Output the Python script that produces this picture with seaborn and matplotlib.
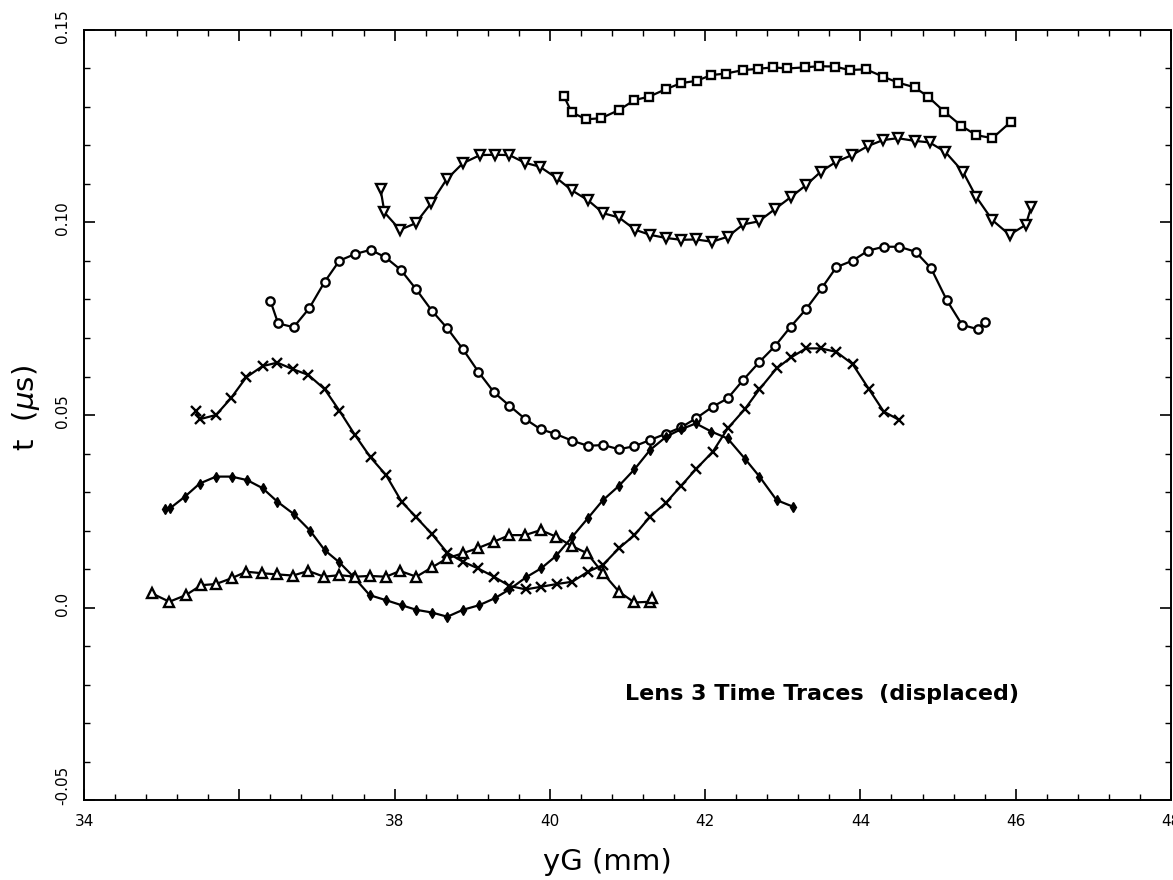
import numpy as np
import pandas as pd
import matplotlib
matplotlib.use("Agg")
import matplotlib.pyplot as plt
import matplotlib.transforms as mtransforms
import seaborn as sns
from matplotlib.ticker import MultipleLocator, FixedLocator

# ---------------- data ----------------
A_x = [40.18,40.28,40.47,40.66,40.89,41.09,41.28,41.49,41.69,41.89,42.08,42.27,42.49,42.68,42.87,43.06,43.28,43.47,43.67,43.86,44.07,44.29,44.49,44.70,44.87,45.08,45.30,45.49,45.70,45.94]
A_y = [0.1329,0.1286,0.1268,0.1271,0.1292,0.1318,0.1327,0.1346,0.1362,0.1368,0.1383,0.1387,0.1396,0.1399,0.1403,0.1400,0.1403,0.1406,0.1405,0.1396,0.1398,0.1379,0.1363,0.1351,0.1327,0.1288,0.1251,0.1227,0.1219,0.1262]

B_x = [37.82,37.87,38.07,38.27,38.47,38.67,38.88,39.10,39.29,39.48,39.68,39.87,40.09,40.28,40.49,40.69,40.89,41.10,41.29,41.49,41.69,41.88,42.09,42.29,42.49,42.69,42.90,43.11,43.30,43.49,43.69,43.89,44.10,44.29,44.48,44.70,44.89,45.09,45.32,45.49,45.70,45.92,46.13,46.20]
B_y = [0.1086,0.1026,0.0981,0.0998,0.1050,0.1112,0.1154,0.1175,0.1176,0.1175,0.1155,0.1145,0.1115,0.1084,0.1058,0.1024,0.1013,0.0981,0.0968,0.0960,0.0955,0.0956,0.0950,0.0963,0.0995,0.1003,0.1035,0.1067,0.1097,0.1132,0.1158,0.1175,0.1199,0.1214,0.1219,0.1212,0.1208,0.1184,0.1132,0.1067,0.1006,0.0968,0.0994,0.1041]

C_x = [36.40,36.50,36.70,36.90,37.10,37.29,37.49,37.69,37.88,38.08,38.28,38.48,38.68,38.88,39.08,39.28,39.48,39.68,39.88,40.07,40.29,40.49,40.69,40.89,41.09,41.29,41.49,41.69,41.88,42.10,42.29,42.49,42.70,42.90,43.10,43.30,43.50,43.69,43.90,44.10,44.30,44.50,44.71,44.91,45.11,45.31,45.51,45.60]
C_y = [0.0797,0.0738,0.0728,0.0777,0.0846,0.0901,0.0918,0.0929,0.0910,0.0877,0.0826,0.0771,0.0725,0.0671,0.0612,0.0559,0.0524,0.0490,0.0463,0.0451,0.0433,0.0420,0.0422,0.0411,0.0419,0.0435,0.0451,0.0468,0.0491,0.0522,0.0543,0.0591,0.0638,0.0679,0.0729,0.0775,0.0829,0.0884,0.0901,0.0927,0.0937,0.0937,0.0924,0.0881,0.0799,0.0734,0.0723,0.0742]

D_x = [35.44,35.49,35.70,35.89,36.09,36.30,36.49,36.69,36.89,37.10,37.29,37.49,37.69,37.89,38.09,38.28,38.48,38.68,38.88,39.07,39.28,39.48,39.69,39.89,40.09,40.29,40.49,40.68,40.89,41.09,41.29,41.49,41.69,41.88,42.10,42.29,42.51,42.70,42.92,43.11,43.30,43.49,43.69,43.90,44.11,44.30,44.50]
D_y = [0.0511,0.0489,0.0500,0.0543,0.0598,0.0627,0.0636,0.0619,0.0604,0.0567,0.0511,0.0448,0.0390,0.0344,0.0275,0.0234,0.0191,0.0142,0.0119,0.0102,0.0080,0.0056,0.0047,0.0054,0.0061,0.0067,0.0093,0.0110,0.0154,0.0188,0.0236,0.0271,0.0316,0.0359,0.0405,0.0465,0.0515,0.0567,0.0621,0.0650,0.0673,0.0673,0.0664,0.0632,0.0567,0.0509,0.0487]

E_x = [35.04,35.11,35.30,35.49,35.70,35.90,36.10,36.30,36.49,36.70,36.91,37.10,37.29,37.47,37.68,37.89,38.09,38.28,38.48,38.68,38.88,39.09,39.29,39.48,39.69,39.89,40.08,40.29,40.49,40.68,40.89,41.09,41.29,41.50,41.69,41.88,42.08,42.29,42.51,42.70,42.92,43.13]
E_y = [0.0255,0.0258,0.0288,0.0322,0.0340,0.0340,0.0331,0.0310,0.0275,0.0243,0.0200,0.0149,0.0117,0.0080,0.0032,0.0019,0.0006,-0.0006,-0.0013,-0.0024,-0.0006,0.0006,0.0024,0.0047,0.0078,0.0102,0.0134,0.0184,0.0232,0.0278,0.0316,0.0359,0.0409,0.0444,0.0463,0.0478,0.0457,0.0439,0.0387,0.0340,0.0279,0.0262]

F_x = [34.87,35.10,35.31,35.51,35.70,35.90,36.09,36.29,36.49,36.69,36.89,37.09,37.29,37.49,37.68,37.89,38.07,38.28,38.48,38.68,38.88,39.07,39.28,39.48,39.68,39.88,40.08,40.28,40.48,40.68,40.89,41.09,41.29,41.32]
F_y = [0.0037,0.0015,0.0032,0.0058,0.0061,0.0076,0.0093,0.0089,0.0086,0.0083,0.0095,0.0080,0.0084,0.0080,0.0082,0.0080,0.0095,0.0080,0.0104,0.0128,0.0141,0.0154,0.0171,0.0188,0.0188,0.0201,0.0184,0.0160,0.0141,0.0090,0.0041,0.0013,0.0015,0.0025]

x_ticks = [34, 36, 38, 40, 42, 44, 46, 48]
x_tick_labels = ["34", "", "38", "40", "42", "44", "46", "48"]
y_ticks = [-0.05, 0.0, 0.05, 0.10, 0.15]
y_tick_labels = ["-0.05", "0.0", "0.05", "0.10", "0.15"]

series = [
    ("A", A_x, A_y, dict(marker="s", ms=6, mfc="white", mec="black", mew=1.7)),
    ("B", B_x, B_y, dict(marker="v", ms=7, mfc="white", mec="black", mew=1.7)),
    ("C", C_x, C_y, dict(marker="o", ms=6, mfc="white", mec="black", mew=1.7)),
    ("D", D_x, D_y, dict(marker="x", ms=7, mec="black", mew=1.7)),
    ("E", E_x, E_y, dict(marker="d", ms=5, mfc="black", mec="black", mew=1.0)),
    ("F", F_x, F_y, dict(marker="^", ms=7, mfc="white", mec="black", mew=1.7)),
]

frames = []
for name, xs, ys, _ in series:
    frames.append(pd.DataFrame({"trace": name, "yG": xs, "t": ys}))
df = pd.concat(frames, ignore_index=True)

# ---------------- plot ----------------
sns.set_style("ticks")
plt.rcParams["font.family"] = ["DejaVu Sans"]
for k in ["text.color", "axes.labelcolor", "xtick.color", "ytick.color", "axes.edgecolor"]:
    plt.rcParams[k] = "black"

fig = plt.figure(figsize=(11.73, 8.8), dpi=100)
ax = fig.add_axes([84/1173, 1 - 800/880, (1171-84)/1173, (800-30)/880])

for name, xs, ys, style in series:
    sub = df[df["trace"] == name]
    sns.lineplot(data=sub, x="yG", y="t", sort=False, estimator=None,
                 color="black", lw=1.6, ax=ax, **style)

ax.set_xlim(34, 48)
ax.set_ylim(-0.05, 0.15)

ax.xaxis.set_major_locator(FixedLocator(x_ticks))
ax.set_xticklabels(x_tick_labels, fontsize=11)
ax.xaxis.set_minor_locator(MultipleLocator(0.4))
ax.yaxis.set_major_locator(FixedLocator(y_ticks))
ax.set_yticklabels(y_tick_labels, fontsize=11, rotation=90, va="center")
ax.yaxis.set_minor_locator(MultipleLocator(0.01))

ax.tick_params(which="both", direction="in", top=True, right=True, color="black")
ax.tick_params(which="major", length=8, width=1.2, pad=10)
ax.tick_params(which="minor", length=4, width=1.0)
for s in ax.spines.values():
    s.set_linewidth(1.4)
    s.set_color("black")

# small upward shifts of the y tick labels, as in the reference
for lab in ax.get_yticklabels():
    dy = 15 if lab.get_text() == "-0.05" else 4
    lab.set_transform(lab.get_transform() +
                      mtransforms.ScaledTranslation(0, dy / 100, fig.dpi_scale_trans))

ax.set_xlabel("yG (mm)", fontsize=21, va="bottom")
ax.set_ylabel(r"t  ($\mu$s)", fontsize=21, va="top")
ax.xaxis.set_label_coords((607-84)/1087, -(876-800)/770)
ax.yaxis.set_label_coords(-(84-10)/1087, (800-408)/770)

ax.text((625-84)/1087, (800-694)/770, "Lens 3 Time Traces  (displaced)",
        transform=ax.transAxes, fontsize=16, fontweight="bold", va="center", ha="left",
        color="black")

fig.savefig("out.png", dpi=100)
